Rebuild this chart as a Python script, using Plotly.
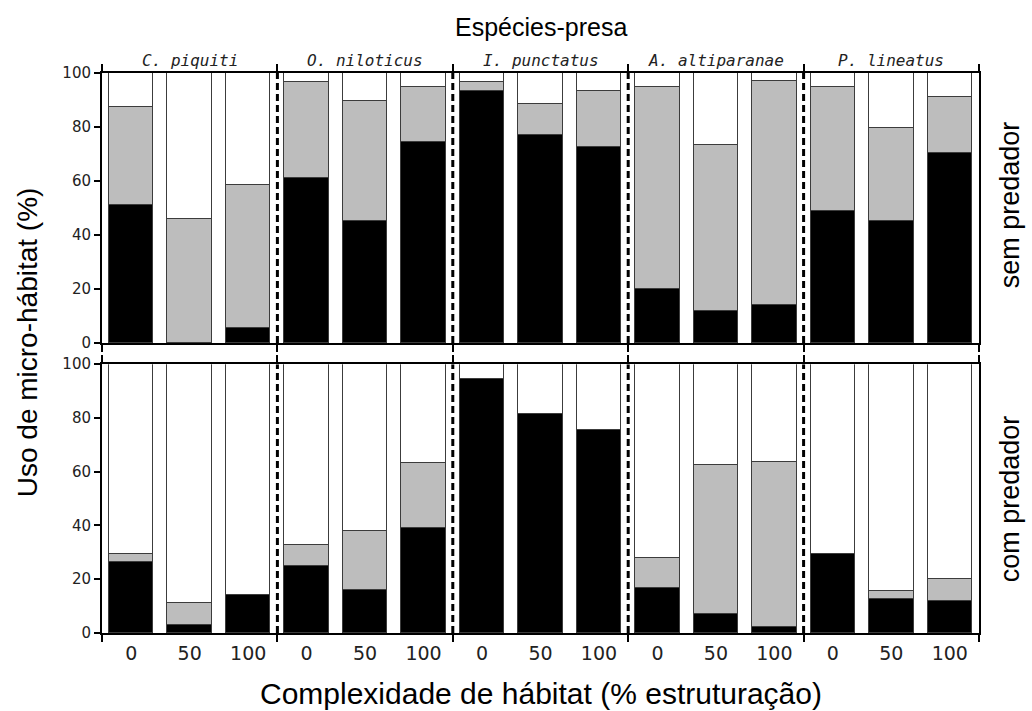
import plotly.graph_objects as go

# Prey species (one group of three bars each) and habitat-complexity levels
species = ["C. piquiti", "O. niloticus", "I. punctatus", "A. altiparanae", "P. lineatus"]
complexity = ["0", "50", "100"]

# Micro-habitat use (%) without predator: black, grey and white segments
sem_black = [51, 0, 5.5, 61, 45, 74.5, 93.5, 77, 72.5, 20, 12, 14, 49, 45, 70.5]
sem_gray = [36.5, 46, 53, 35.5, 44.5, 20.5, 3, 11.5, 21, 75, 61.5, 83, 46, 34.5, 20.5]
sem_white = [12.5, 54, 41.5, 3.5, 10.5, 5, 3.5, 11.5, 6.5, 5, 26.5, 3, 5, 20.5, 9]

# Micro-habitat use (%) with predator
com_black = [26.5, 3, 14, 25, 16, 39, 94.5, 81.5, 75.5, 16.5, 7, 2, 29.5, 12.5, 12]
com_gray = [3, 8, 0, 7.5, 22, 24, 0, 0, 0, 11.5, 55.5, 61.5, 0, 3, 8]
com_white = [70.5, 89, 86, 67.5, 62, 37, 5.5, 18.5, 24.5, 72, 37.5, 36.5, 70.5, 84.5, 80]

y_ticks = [0, 20, 40, 60, 80, 100]

n_groups = len(species)
n_per = len(complexity)
xpos = list(range(n_groups * n_per))
xlabels = complexity * n_groups
bounds = [g * n_per - 0.5 for g in range(n_groups + 1)]
xrange = [bounds[0], bounds[-1]]

TICK_FONT = "DejaVu Sans, Verdana, sans-serif"
TITLE_FONT = "Liberation Sans, Arial, sans-serif"
SPECIES_FONT = "DejaVu Sans Mono, monospace"

fig = go.Figure()

segment_colors = ["#000000", "#bdbdbd", "#ffffff"]


def add_panel(values, xa, ya):
    for vals, col in zip(values, segment_colors):
        fig.add_trace(go.Bar(
            x=xpos, y=vals, xaxis=xa, yaxis=ya, width=0.76,
            marker=dict(color=col, line=dict(color="#3c3c3c", width=1)),
            showlegend=False, hoverinfo="skip",
        ))


add_panel([sem_black, sem_gray, sem_white], "x", "y")
add_panel([com_black, com_gray, com_white], "x2", "y2")

# empty trace so the label axis under the lower panel is drawn
fig.add_trace(go.Scatter(x=[None], y=[None], xaxis="x3", yaxis="y2",
                         showlegend=False, hoverinfo="skip"))

frame_x = dict(
    range=xrange, tickvals=bounds, ticks="outside", ticklen=7, tickwidth=2,
    tickcolor="black", showline=True, linewidth=2, linecolor="black",
    mirror="ticks", showticklabels=False, showgrid=False, zeroline=False,
)
frame_y = dict(
    range=[0, 100], tickvals=y_ticks, ticks="outside", ticklen=6, tickwidth=2,
    tickcolor="black", showline=True, linewidth=2, linecolor="black",
    mirror=True, showgrid=False, zeroline=False,
    tickfont=dict(family=TICK_FONT, size=15, color="#222"),
)

top_dom = [0.518, 1.0]
bot_dom = [0.0, 0.48]

fig.update_layout(
    width=1032, height=711,
    margin=dict(l=102, r=53, t=73, b=78),
    paper_bgcolor="white", plot_bgcolor="white",
    barmode="stack", bargap=0,
    xaxis=dict(frame_x, anchor="y", domain=[0, 1]),
    yaxis=dict(frame_y, anchor="x", domain=top_dom),
    xaxis2=dict(frame_x, anchor="y2", domain=[0, 1]),
    yaxis2=dict(frame_y, anchor="x2", domain=bot_dom),
    xaxis3=dict(
        overlaying="x2", anchor="y2", range=xrange, tickvals=xpos,
        ticktext=xlabels, ticks="", showline=False, showgrid=False,
        zeroline=False, ticklabelstandoff=7,
        tickfont=dict(family=TICK_FONT, size=19, color="#222"),
    ),
)

# dashed separators between species groups
for ya in ["y", "y2"]:
    for b in bounds[1:-1]:
        fig.add_shape(type="line", xref="x" if ya == "y" else "x2", yref=ya,
                      x0=b, x1=b, y0=0, y1=100,
                      line=dict(color="black", width=3, dash="7px,4px"))

# species names above the upper panel
for g, name in enumerate(species):
    fig.add_annotation(
        x=g * n_per + 1, xref="x", y=1, yref="paper", yanchor="bottom",
        yshift=1, showarrow=False, text=f"<i>{name}</i>",
        font=dict(family=SPECIES_FONT, size=16, color="#222"),
    )


def title_note(text, x, y, size, angle=0):
    fig.add_annotation(x=x, xref="paper", y=y, yref="paper", text=text,
                       textangle=angle, showarrow=False,
                       xanchor="center", yanchor="middle",
                       font=dict(family=TITLE_FONT, size=size, color="black"))


title_note("Espécies-presa", 0.5, 1.082, 25)
title_note("Complexidade de hábitat (% estruturação)", 0.5, -0.108, 30)
title_note("Uso de micro-hábitat (%)", -0.085, 0.52, 28, -90)
title_note("sem predador", 1.035, sum(top_dom) / 2 + 0.006, 27, -90)
title_note("com predador", 1.035, sum(bot_dom) / 2, 27, -90)

fig.write_html("out.html")
